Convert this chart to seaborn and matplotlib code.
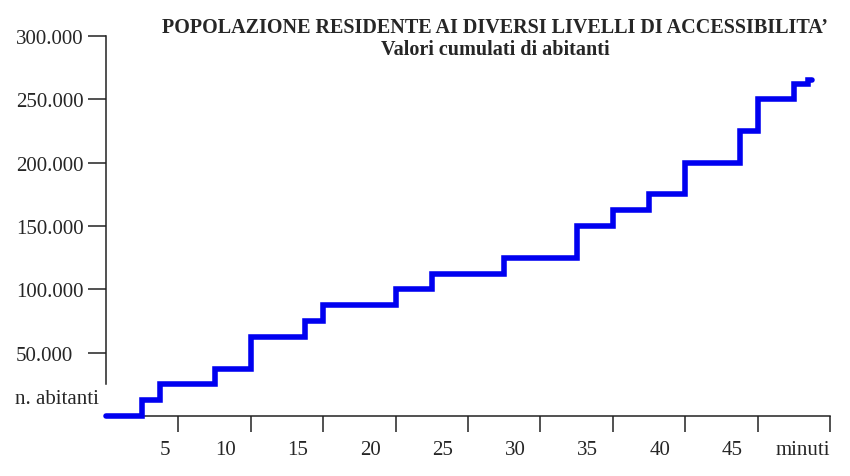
import matplotlib
matplotlib.use("Agg")
import matplotlib.pyplot as plt
import seaborn as sns
import pandas as pd

sns.set_theme(style="white")
plt.rcParams['font.family'] = ['Liberation Serif', 'DejaVu Serif']

# cumulative residents reached within n minutes (step values)
minutes = [0, 2.5, 3.75, 7.5, 10, 13.75, 15, 20, 22.5, 27.5, 32.5, 35, 37.5,
           40, 43.75, 45, 47.5, 48.5, 48.75]
abitanti = [0, 12500, 25000, 37500, 62500, 75000, 87500, 100000, 112500,
            125000, 150000, 162500, 175000, 200000, 225000, 250000, 262500,
            265000, 265000]

y_ticks = [50000, 100000, 150000, 200000, 250000, 300000]
y_labels = ['50.000', '100.000', '150.000', '200.000', '250.000', '300.000']
x_ticks = [5, 10, 15, 20, 25, 30, 35, 40, 45, 50]
x_labels = ['5', '10', '15', '20', '25', '30', '35', '40', '45', 'minuti']
x_label_pos = [4.1, 8.25, 13.25, 18.25, 23.25, 28.25, 33.25, 38.25, 43.25, 48.1]

title = "POPOLAZIONE RESIDENTE AI DIVERSI LIVELLI DI ACCESSIBILITA\u2019"
subtitle = "Valori cumulati di abitanti"

df = pd.DataFrame({'minuti': minutes, 'abitanti': abitanti})

fig = plt.figure(figsize=(8.5, 4.77), dpi=100)
ax = fig.add_axes([106 / 850, 1 - 417 / 477, 724 / 850, 380 / 477])

sns.lineplot(data=df, x='minuti', y='abitanti', ax=ax, color='#0000f0',
             linewidth=4.0, drawstyle='steps-post', clip_on=False, zorder=3,
             solid_joinstyle='miter')

ax.set_xlim(0, 50)
ax.set_ylim(0, 300000)

for s in ['top', 'right']:
    ax.spines[s].set_visible(False)
for s in ['left', 'bottom']:
    ax.spines[s].set_color('#222222')
    ax.spines[s].set_linewidth(1.1)
ax.spines['left'].set_bounds(25000, 300000)

ax.set_yticks(y_ticks)
ax.set_yticklabels(y_labels, fontsize=15, ha='left')
ax.tick_params(axis='y', direction='out', length=13, width=1.1,
               color='#222222', pad=52, left=True)

ax.set_xticks(x_ticks)
ax.set_xticklabels([])
ax.tick_params(axis='x', which='major', direction='out', length=11.5,
               width=1.1, color='#222222', bottom=True)
ax.set_xticks(x_label_pos, minor=True)
ax.set_xticklabels(x_labels, minor=True, fontsize=15)
ax.tick_params(axis='x', which='minor', length=0, pad=17)

ax.set_xlabel('')
ax.set_ylabel('')
ax.grid(False)

fig.text(15 / 850, 1 - 400 / 477, 'n. abitanti', fontsize=15,
         ha='left', va='center')
fig.text(495 / 850, 1 - 28 / 477, title, fontsize=14.5, fontweight='bold',
         ha='center', va='center')
fig.text(495 / 850, 1 - 50 / 477, subtitle, fontsize=14.5, fontweight='bold',
         ha='center', va='center')

fig.savefig('out.png', dpi=100)
